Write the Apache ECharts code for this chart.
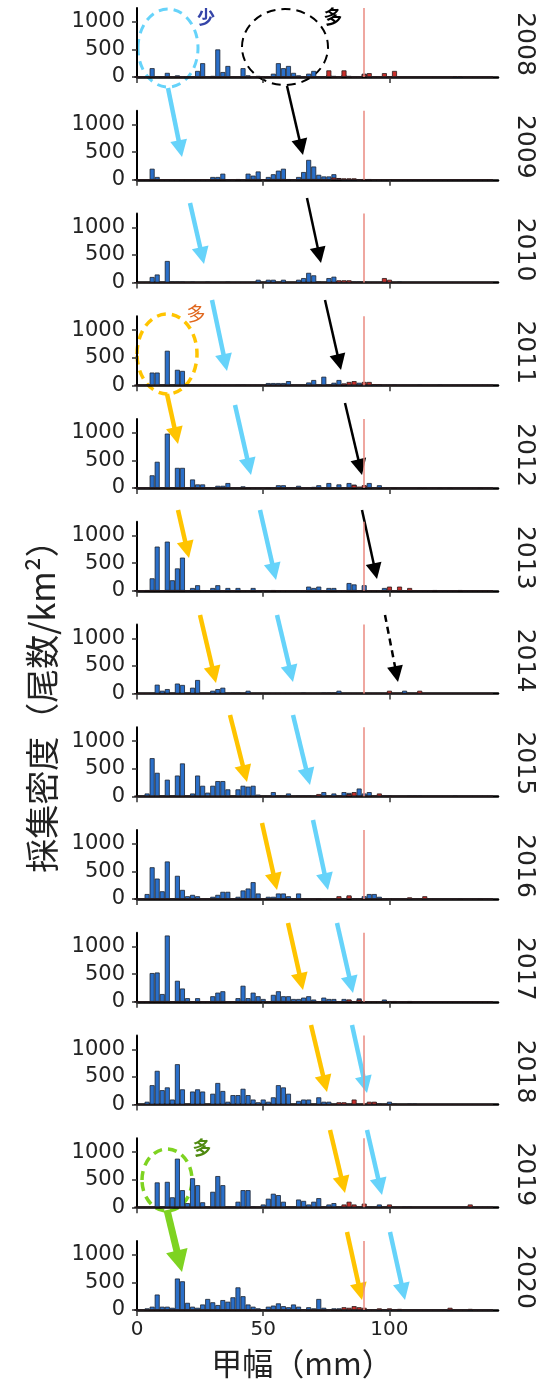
<!DOCTYPE html>
<html>
<head>
<meta charset="utf-8">
<script src="https://cdn.jsdelivr.net/npm/echarts@6/dist/echarts.min.js"></script>
<style>
  html, body { margin: 0; padding: 0; background: #fff; }
  #main { width: 543px; height: 1387px; }
</style>
</head>
<body>
<div id="main"></div>
<script type="text/javascript">
    // 年ごとの甲幅組成 (2mm 階級, [甲幅mm, 尾数/km2])
    var years = [2008, 2009, 2010, 2011, 2012, 2013, 2014, 2015, 2016, 2017, 2018, 2019, 2020];
    var xTicks = [0, 50, 100];
    var yTicks = [0, 500, 1000];
    var sizeLimit = 90;

    var blue2008 = [[6,160],[12,75],[16,30],[24,110],[26,250],[30,20],[32,500],[34,90],[36,200],[42,160],[44,30],[48,20],[50,15],[52,15],[54,60],[56,250],[58,160],[60,200],[62,75],[64,30],[68,60],[70,110],[76,40],[78,20],[82,40],[84,20],[90,60]];
    var red2008 = [[76,120],[82,120],[90,50],[92,70],[98,70],[102,110],[126,15],[128,15]];
    var blue2009 = [[6,200],[8,50],[30,50],[32,50],[34,110],[40,10],[44,110],[46,75],[48,150],[52,50],[54,100],[56,165],[58,200],[60,10],[64,50],[66,140],[68,360],[70,240],[72,90],[74,60],[76,60],[78,100],[80,30],[90,10],[92,10]];
    var red2009 = [[78,40],[80,30],[82,25],[84,25],[86,25]];
    var blue2010 = [[6,100],[8,145],[12,390],[14,10],[16,10],[18,10],[22,10],[28,10],[36,10],[48,50],[52,50],[54,50],[58,50],[64,50],[66,80],[68,175],[70,130],[72,10],[76,80],[78,105],[86,10],[88,10],[90,10],[104,10]];
    var red2010 = [[80,40],[82,40],[84,40],[98,80],[100,50]];
    var blue2011 = [[6,230],[8,230],[12,625],[16,280],[18,260],[22,5],[40,5],[42,5],[52,40],[54,40],[56,40],[58,40],[60,75],[68,50],[70,95],[74,155],[78,45],[80,95],[82,30],[88,45],[102,10],[112,10],[120,10]];
    var red2011 = [[82,30],[84,60],[86,75],[90,60],[92,60],[94,20],[96,20]];
    var blue2012 = [[6,230],[8,475],[10,10],[12,985],[14,10],[16,365],[18,365],[22,155],[24,65],[26,65],[32,40],[34,40],[36,90],[42,30],[44,15],[52,10],[56,50],[58,50],[64,40],[70,20],[72,50],[76,90],[80,65],[84,90],[86,60],[90,40],[92,90],[96,50],[102,10],[112,10],[114,10],[120,10],[124,10],[136,10]];
    var red2012 = [[86,55],[88,25],[90,50]];
    var blue2013 = [[4,10],[6,225],[8,800],[12,890],[14,190],[16,405],[18,600],[22,50],[24,100],[30,50],[32,100],[36,50],[40,50],[46,50],[54,10],[68,75],[70,50],[72,75],[76,50],[78,50],[84,140],[86,115],[90,100],[98,50],[118,10],[128,10]];
    var red2013 = [[100,75],[104,75],[108,50]];
    var blue2014 = [[8,160],[10,50],[12,80],[16,180],[18,155],[22,105],[24,245],[30,50],[32,80],[34,105],[38,10],[40,10],[44,50],[66,10],[74,10],[76,10],[78,10],[80,50],[106,50]];
    var red2014 = [[100,50],[112,50]];
    var blue2015 = [[4,50],[6,690],[8,425],[12,300],[16,375],[18,595],[22,50],[24,375],[26,190],[28,65],[30,190],[32,275],[34,275],[36,125],[40,125],[42,190],[44,175],[46,190],[48,30],[54,75],[60,50],[64,10],[66,10],[68,10],[74,75],[78,50],[82,75],[84,60],[88,140],[90,50],[92,75],[98,10],[100,10],[108,10],[110,10],[112,10],[126,10]];
    var red2015 = [[72,40],[84,40],[86,75],[96,50]];
    var blue2016 = [[4,90],[6,575],[8,370],[10,140],[12,680],[16,420],[18,165],[20,50],[22,75],[24,50],[30,40],[32,75],[34,130],[36,130],[40,40],[42,155],[44,190],[46,305],[48,100],[52,40],[54,40],[56,100],[58,100],[60,50],[64,100],[72,10],[84,50],[90,50],[92,90],[94,90],[96,40],[128,10],[136,10]];
    var red2016 = [[80,50],[84,65],[108,30],[114,50]];
    var blue2017 = [[6,520],[8,530],[10,140],[12,1200],[16,380],[18,240],[20,65],[24,65],[30,100],[32,165],[34,190],[40,65],[42,290],[44,65],[46,165],[48,100],[50,50],[54,125],[56,190],[58,100],[60,100],[62,50],[64,50],[66,75],[68,100],[70,40],[74,75],[76,50],[78,50],[82,50],[84,35],[88,60],[98,40],[100,10],[102,10],[108,10]];
    var red2017 = [[84,40],[88,40]];
    var blue2018 = [[4,50],[6,350],[8,610],[10,260],[12,310],[14,90],[16,730],[18,275],[22,235],[24,275],[26,235],[30,195],[32,390],[34,245],[36,50],[38,170],[40,170],[42,285],[44,170],[46,90],[48,40],[50,90],[52,50],[54,130],[56,350],[58,310],[60,195],[64,65],[66,90],[68,90],[72,130],[74,50],[76,50],[94,40],[96,10],[100,50],[102,10],[108,10],[110,10]];
    var red2018 = [[80,40],[82,40],[86,90],[92,50],[94,50]];
    var blue2019 = [[8,450],[10,10],[12,460],[14,180],[16,880],[18,310],[20,75],[22,525],[24,400],[26,90],[30,280],[32,565],[34,400],[40,100],[42,310],[44,310],[46,10],[50,50],[52,155],[54,245],[56,220],[58,100],[64,140],[66,115],[68,50],[70,100],[72,165],[76,50],[78,75],[96,50],[106,10],[108,10]];
    var red2019 = [[82,50],[84,100],[86,50],[90,65],[100,50],[132,50]];
    var blue2020 = [[4,30],[6,60],[8,280],[10,60],[12,60],[14,40],[16,570],[18,520],[20,130],[22,60],[24,40],[26,100],[28,200],[30,140],[32,90],[34,180],[36,150],[38,230],[40,410],[42,250],[44,100],[46,60],[48,30],[52,60],[54,80],[56,120],[58,70],[60,50],[62,100],[64,60],[68,50],[70,30],[72,200],[74,40],[78,30],[80,30]];
    var red2020 = [[82,50],[84,40],[86,70],[88,50],[90,40],[96,30],[100,30],[104,20],[124,40],[132,20]];

    var blueAll = [blue2008, blue2009, blue2010, blue2011, blue2012, blue2013, blue2014, blue2015, blue2016, blue2017, blue2018, blue2019, blue2020];
    var redAll = [red2008, red2009, red2010, red2011, red2012, red2013, red2014, red2015, red2016, red2017, red2018, red2019, red2020];

    // 2mm 階級の中心
    var bins = [];
    for (var b = 0; b <= 140; b += 2) bins.push(b);
    var expand = function (pairs) {
        var m = {};
        pairs.forEach(function (p) { m[p[0]] = p[1]; });
        return bins.map(function (x) { return [x, m[x] || 0]; });
    };

    var FONT = 'DejaVu Sans';
    var CJK = 'Noto Sans CJK JP';
    var gridTop0 = 8, gridH = 69, step = 102.75;

    var grid = [], xAxis = [], yAxis = [], series = [], graphic = [];
    years.forEach(function (yr, i) {
        var last = i === years.length - 1;
        grid.push({ left: 137, width: 361, top: gridTop0 + step * i, height: gridH });
        xAxis.push({
            type: 'value', gridIndex: i, min: 0, max: 143,
            axisLine: { show: true, lineStyle: { color: '#000', width: 2.5 } },
            axisTick: { show: true, length: 6, customValues: xTicks, lineStyle: { color: '#333', width: 1.5 } },
            axisLabel: { show: last, customValues: xTicks, margin: 10, fontSize: 20, fontFamily: FONT, color: '#222',
                         formatter: function (v) { return String(v); } },
            splitLine: { show: false }
        });
        yAxis.push({
            type: 'value', gridIndex: i, min: 0, max: 1250,
            axisLine: { show: true, lineStyle: { color: '#000', width: 2 } },
            axisTick: { show: true, length: 5, customValues: yTicks, lineStyle: { color: '#333', width: 1.5 } },
            axisLabel: { customValues: yTicks, margin: 12, fontSize: 21, fontFamily: FONT, color: '#222',
                         formatter: function (v) { return String(v); } },
            splitLine: { show: false }
        });
        series.push({
            type: 'bar', xAxisIndex: i, yAxisIndex: i, stack: 's' + i, barWidth: 5,
            itemStyle: { color: '#2a6fc9', borderColor: '#1c2330', borderWidth: 0.8 },
            data: expand(blueAll[i]),
            markLine: {
                silent: true, symbol: 'none', label: { show: false },
                lineStyle: { color: '#ea8a80', width: 1.5, type: 'solid' },
                data: [{ xAxis: sizeLimit }]
            }
        });
        series.push({
            type: 'bar', xAxisIndex: i, yAxisIndex: i, stack: 's' + i, barWidth: 5,
            itemStyle: { color: '#c9302c', borderColor: '#2a1a1a', borderWidth: 0.8 },
            data: expand(redAll[i])
        });
        // 年ラベル（右側）
        graphic.push({
            type: 'text', x: 524, y: gridTop0 + step * i + 36, rotation: -Math.PI / 2,
            style: { text: String(yr), fontSize: 25, fontFamily: FONT, fill: '#222', align: 'center', verticalAlign: 'middle' }
        });
    });

    // 矢印
    var arrow = function (x1, y1, x2, y2, color, w, head, dashed) {
        var dx = x2 - x1, dy = y2 - y1, len = Math.sqrt(dx * dx + dy * dy);
        var ux = dx / len, uy = dy / len;
        var bx = x2 - ux * head, by = y2 - uy * head;
        var hw = head * 0.5;
        return {
            type: 'group', children: [
                { type: 'line', shape: { x1: x1, y1: y1, x2: bx + ux * 2, y2: by + uy * 2 },
                  style: { stroke: color, lineWidth: w, lineDash: dashed ? [7, 5] : null } },
                { type: 'polygon', shape: { points: [[x2, y2], [bx - uy * hw, by + ux * hw], [bx + uy * hw, by - ux * hw]] },
                  style: { fill: color } }
            ]
        };
    };
    var ellipse = function (cx, cy, rx, ry, color, w) {
        return { type: 'ellipse', shape: { cx: cx, cy: cy, rx: rx, ry: ry },
                 style: { fill: null, stroke: color, lineWidth: w, lineDash: [9, 6] } };
    };
    var LB = '#66d3fa', YE = '#ffc400', BK = '#000', GR = '#7ed321';

    graphic.push(ellipse(168, 48, 30, 39, LB, 3));
    graphic.push(ellipse(285, 47, 43, 38, BK, 2));
    graphic.push(ellipse(167, 354, 30, 40, YE, 3.5));
    graphic.push(ellipse(167, 1180, 25, 31, GR, 3.5));
    graphic.push({ type: 'text', x: 206, y: 17, style: { text: '少', fontSize: 18, fontWeight: 'bold', fontFamily: CJK, fill: '#3545a8', align: 'center', verticalAlign: 'middle' } });
    graphic.push({ type: 'text', x: 333, y: 17, style: { text: '多', fontSize: 19, fontWeight: 'bold', fontFamily: CJK, fill: '#000', align: 'center', verticalAlign: 'middle' } });
    graphic.push({ type: 'text', x: 196, y: 314, style: { text: '多', fontSize: 19, fontFamily: CJK, fill: '#e0661c', align: 'center', verticalAlign: 'middle' } });
    graphic.push({ type: 'text', x: 202, y: 1148, style: { text: '多', fontSize: 19, fontWeight: 'bold', fontFamily: CJK, fill: '#4f8a10', align: 'center', verticalAlign: 'middle' } });

    var lightBlueArrows = [[168,88,182,157],[190,203,204,264],[212,300,227,371],[235,405,251,475],[260,510,276,580],[277,615,293,682],[293,715,310,785],[313,820,328,890],[337,923,353,993],[352,1025,367,1093],[367,1130,382,1195],[390,1232,405,1300]];
    var yellowArrows = [[167,394,178,444],[178,510,189,558],[200,615,216,683],[230,715,247,782],[262,823,277,890],[288,923,303,990],[311,1025,327,1092],[330,1130,345,1193],[347,1232,362,1300]];
    var blackArrows = [[287,86,303,155],[307,198,321,263],[325,300,341,370],[345,403,362,475],[362,510,377,579]];
    lightBlueArrows.forEach(function (a) { graphic.push(arrow(a[0], a[1], a[2], a[3], LB, 4.5, 17)); });
    yellowArrows.forEach(function (a) { graphic.push(arrow(a[0], a[1], a[2], a[3], YE, 4.5, 17)); });
    blackArrows.forEach(function (a) { graphic.push(arrow(a[0], a[1], a[2], a[3], BK, 2.5, 16)); });
    graphic.push(arrow(385, 615, 398, 682, BK, 2.5, 16, true));
    graphic.push(arrow(167, 1210, 182, 1272, GR, 7, 22));

    // 軸タイトル
    graphic.push({ type: 'text', x: 42, y: 698, rotation: Math.PI / 2,
        style: { text: '採集密度（尾数/km²）', fontSize: 34, fontFamily: CJK, fill: '#222', align: 'center', verticalAlign: 'middle' } });
    graphic.push({ type: 'text', x: 302, y: 1363,
        style: { text: '甲幅（mm）', fontSize: 31, fontFamily: CJK, fill: '#222', align: 'center', verticalAlign: 'middle' } });

    var myChart = echarts.init(document.getElementById('main'));
    var option = {
        animation: false,
        grid: grid,
        xAxis: xAxis,
        yAxis: yAxis,
        series: series,
        graphic: graphic
    };
    myChart.setOption(option, true);
</script>
</body>
</html>
